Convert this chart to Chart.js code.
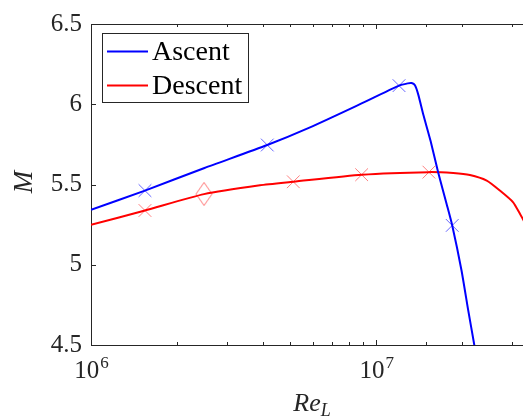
<!DOCTYPE html>
<html>
<head>
<meta charset="utf-8">
<script src="https://cdn.jsdelivr.net/npm/chart.js@4/dist/chart.umd.min.js"></script>
<style>
  html, body { margin: 0; padding: 0; background: #fff; }
  canvas { display: block; }
</style>
</head>
<body>
<canvas id="chart" width="523" height="417"></canvas>
<script>
// Ascent curve (Re_L, M)
const ascentRe = [1e6, 1.546e6, 2.5e6, 4.15e6, 5.86e6, 8.53e6, 1.202e7, 1.29e7, 1.331e7, 1.367e7, 1.404e7, 1.462e7, 1.551e7, 1.649e7, 1.765e7, 1.847e7, 1.99e7, 2.1e7, 2.207e7, 2.23e7];
const ascentM = [5.342, 5.462, 5.603, 5.746, 5.856, 5.99, 6.116, 6.13, 6.132, 6.118, 6.06, 5.936, 5.771, 5.575, 5.379, 5.245, 4.966, 4.719, 4.5, 4.45];

// Descent curve
const descentRe = [1e6, 1.546e6, 2.49e6, 3.91e6, 5.12e6, 8.89e6, 1.53e7, 1.862e7, 2.13e7, 2.44e7, 2.713e7, 3.02e7, 3.19e7, 3.3e7];
const descentM = [5.249, 5.338, 5.44, 5.495, 5.517, 5.561, 5.577, 5.571, 5.559, 5.524, 5.462, 5.389, 5.317, 5.27];

// Markers
const ascentMarkRe = [1.546e6, 4.15e6, 1.202e7, 1.847e7];
const ascentMarkM = [5.462, 5.746, 6.116, 5.245];
const descentMarkRe = [1.546e6, 5.12e6, 8.89e6, 1.53e7];
const descentMarkM = [5.338, 5.517, 5.561, 5.577];
const diamondRe = [2.49e6];
const diamondM = [5.441];

const yTicks = [4.5, 5, 5.5, 6, 6.5];
const legendLabels = ['Ascent', 'Descent'];

const axisColor = '#262626';
const serif = '"Liberation Serif", "Times New Roman", serif';

function pairs(xs, ys) {
    return xs.map((x, i) => ({ x: x, y: ys[i] }));
}

// Вытянутый ромб как в MATLAB
function diamondImage(color) {
    const c = document.createElement('canvas');
    c.width = 18;
    c.height = 25;
    const g = c.getContext('2d');
    g.strokeStyle = color;
    g.lineWidth = 1;
    g.beginPath();
    g.moveTo(9, 1);
    g.lineTo(17, 12.5);
    g.lineTo(9, 24);
    g.lineTo(1, 12.5);
    g.closePath();
    g.stroke();
    return c;
}

// Рамка, внутренние засечки, подписи оси X и легенда
const decorPlugin = {
    id: 'decor',
    afterDraw(chart) {
        const ctx = chart.ctx;
        const a = chart.chartArea;
        const xs = chart.scales.x;
        const ys = chart.scales.y;
        ctx.save();
        ctx.strokeStyle = axisColor;
        ctx.lineWidth = 1;

        // верхняя граница
        ctx.beginPath();
        ctx.moveTo(a.left, a.top + 0.5);
        ctx.lineTo(a.right, a.top + 0.5);
        ctx.stroke();

        // засечки по X (внутрь)
        xs.ticks.forEach(t => {
            const px = Math.round(xs.getPixelForValue(t.value)) + 0.5;
            const lg = Math.log10(t.value);
            const len = Math.abs(lg - Math.round(lg)) < 1e-6 ? 5 : 3;
            ctx.beginPath();
            ctx.moveTo(px, a.bottom);
            ctx.lineTo(px, a.bottom - len);
            ctx.moveTo(px, a.top);
            ctx.lineTo(px, a.top + len);
            ctx.stroke();
        });
        // засечки по Y
        yTicks.forEach(v => {
            const py = Math.round(ys.getPixelForValue(v)) + 0.5;
            ctx.beginPath();
            ctx.moveTo(a.left, py);
            ctx.lineTo(a.left + 5, py);
            ctx.stroke();
        });

        // подписи 10^n
        ctx.fillStyle = axisColor;
        ctx.textBaseline = 'alphabetic';
        ctx.textAlign = 'left';
        xs.ticks.forEach(t => {
            const lg = Math.log10(t.value);
            if (Math.abs(lg - Math.round(lg)) > 1e-6) return;
            const px = xs.getPixelForValue(t.value);
            ctx.font = '25px ' + serif;
            const wBase = ctx.measureText('10').width;
            ctx.font = '17px ' + serif;
            const sup = String(Math.round(lg));
            const wSup = ctx.measureText(sup).width;
            const x0 = px - (wBase + wSup) / 2;
            ctx.font = '25px ' + serif;
            ctx.fillText('10', x0, 378);
            ctx.font = '17px ' + serif;
            ctx.fillText(sup, x0 + wBase + 1, 368);
        });

        // подпись оси X: Re_L
        ctx.font = 'italic 26px ' + serif;
        const wRe = ctx.measureText('Re').width;
        ctx.font = 'italic 18px ' + serif;
        const wL = ctx.measureText('L').width;
        const xr = 312 - (wRe + wL) / 2;
        ctx.font = 'italic 26px ' + serif;
        ctx.fillText('Re', xr, 411);
        ctx.font = 'italic 18px ' + serif;
        ctx.fillText('L', xr + wRe, 416);

        // подпись оси Y: M
        ctx.save();
        ctx.translate(32, 182);
        ctx.rotate(-Math.PI / 2);
        ctx.textAlign = 'center';
        ctx.font = 'italic 27px ' + serif;
        ctx.fillText('M', 0, 0);
        ctx.restore();

        // легенда
        ctx.fillStyle = '#fff';
        ctx.fillRect(102.5, 33.5, 146, 69);
        ctx.strokeStyle = axisColor;
        ctx.strokeRect(102.5, 33.5, 146, 69);
        const rowY = [51.5, 85.5];
        legendLabels.forEach((lab, i) => {
            const ds = chart.data.datasets[i];
            ctx.strokeStyle = ds.borderColor;
            ctx.lineWidth = 2;
            ctx.beginPath();
            ctx.moveTo(107, rowY[i]);
            ctx.lineTo(148, rowY[i]);
            ctx.stroke();
            ctx.fillStyle = '#000';
            ctx.font = '28px ' + serif;
            ctx.textAlign = 'left';
            ctx.textBaseline = 'middle';
            ctx.fillText(lab, 152, rowY[i] + 1);
        });
        ctx.restore();
    }
};

const ctx = document.getElementById('chart').getContext('2d');
new Chart(ctx, {
    type: 'line',
    data: {
        datasets: [
            {
                label: legendLabels[0],
                data: pairs(ascentRe, ascentM),
                borderColor: '#0000ff',
                borderWidth: 2,
                pointRadius: 0,
                tension: 0.2,
                fill: false
            },
            {
                label: legendLabels[1],
                data: pairs(descentRe, descentM),
                borderColor: '#ff0000',
                borderWidth: 2,
                pointRadius: 0,
                tension: 0.2,
                fill: false
            },
            {
                label: 'ascent marks',
                data: pairs(ascentMarkRe, ascentMarkM),
                showLine: false,
                pointStyle: 'crossRot',
                pointRadius: 9,
                pointBorderWidth: 1,
                pointBorderColor: 'rgba(0,0,255,0.6)',
                borderColor: 'rgba(0,0,255,0.6)'
            },
            {
                label: 'descent marks',
                data: pairs(descentMarkRe, descentMarkM),
                showLine: false,
                pointStyle: 'crossRot',
                pointRadius: 9,
                pointBorderWidth: 1,
                pointBorderColor: 'rgba(255,0,0,0.5)',
                borderColor: 'rgba(255,0,0,0.5)'
            },
            {
                label: 'diamond',
                data: pairs(diamondRe, diamondM),
                showLine: false,
                pointStyle: diamondImage('rgba(255,0,0,0.55)'),
                pointRadius: 10
            }
        ]
    },
    options: {
        responsive: false,
        animation: false,
        devicePixelRatio: 1,
        layout: { autoPadding: false, padding: { top: 22, right: 0, left: 0, bottom: 0 } },
        plugins: {
            legend: { display: false },
            tooltip: { enabled: false }
        },
        scales: {
            x: {
                type: 'logarithmic',
                min: 1e6,
                max: 3.27e7,
                grid: { display: false, drawTicks: false },
                border: { display: true, color: axisColor, width: 1 },
                ticks: { display: false },
                afterFit(scale) { scale.height = 72; }
            },
            y: {
                type: 'linear',
                min: 4.5,
                max: 6.5,
                afterBuildTicks(scale) { scale.ticks = yTicks.map(v => ({ value: v })); },
                grid: { display: false, drawTicks: false },
                border: { display: true, color: axisColor, width: 1 },
                ticks: {
                    color: axisColor,
                    padding: 9,
                    font: { family: serif, size: 25 },
                    callback: v => String(v)
                },
                afterFit(scale) { scale.width = 91; }
            }
        }
    },
    plugins: [decorPlugin]
});
</script>
</body>
</html>
